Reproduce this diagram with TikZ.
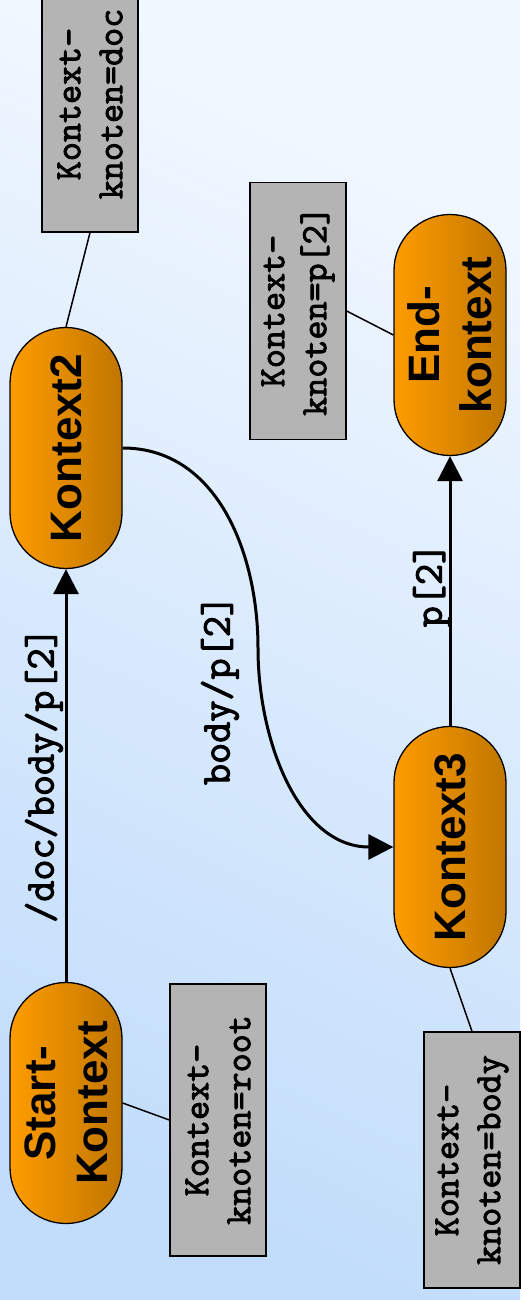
\documentclass[tikz,border=0pt]{standalone}
\usepackage{fontspec}
\setmainfont{Liberation Sans}
\setmonofont{Latin Modern Mono}[FakeBold=2.5]
\usetikzlibrary{arrows.meta,shapes.misc}

\definecolor{bghell}{HTML}{F2F8FF}
\definecolor{bgdunkel}{HTML}{C2DDFB}
\definecolor{orhell}{HTML}{FF9C00}
\definecolor{ordunkel}{HTML}{C07600}
\definecolor{kastengrau}{HTML}{B4B4B4}

\tikzset{
  kontext/.style={rounded rectangle, draw, line width=1.3pt, rotate=90,
    minimum width=241pt, minimum height=112pt, inner sep=0pt, align=center,
    left color=orhell, right color=ordunkel,
    font=\bfseries\fontsize{44}{52}\selectfont},
  knoten/.style={draw, line width=1.3pt, fill=kastengrau, rotate=90,
    minimum height=96pt, inner sep=0pt, align=center,
    font=\ttfamily\fontsize{37}{42}\selectfont},
  weg/.style={rotate=90, inner sep=0pt, font=\ttfamily\fontsize{41}{44}\selectfont},
  pfeil/.style={-{Triangle[length=25pt,width=25pt]}, line width=3pt},
  bein/.style={line width=1.5pt}
}

\begin{document}
\begin{tikzpicture}[x=1pt,y=-1pt]
  \useasboundingbox (0,0) rectangle (520,1300);
  \shade[top color=bghell, bottom color=bgdunkel, shading angle=-25] (0,0) rectangle (520,1300);

  \node[kontext] (start) at (66,1103) {Start-\\Kontext};
  \node[kontext] (k2) at (66,448) {Kontext2};
  \node[kontext] (k3) at (450,847) {Kontext3};
  \node[kontext] (ende) at (450,335) {End-\\kontext};

  \node[knoten, minimum width=272pt] (root) at (218,1120) {Kontext-\\knoten=root};
  \node[knoten, minimum width=256pt] (doc) at (90,104) {Kontext-\\knoten=doc};
  \node[knoten, minimum width=257pt] (p2) at (298,311) {Kontext-\\knoten=p[2]};
  \node[knoten, minimum width=256pt] (body) at (472,1160) {Kontext-\\knoten=body};

  \coordinate (mitte) at (258,648);

  \draw[bein] (start.south) -- (root.north);
  \draw[bein] (doc.west) -- (k2.east);
  \draw[bein] (p2.south) -- (ende.north);
  \draw[bein] (k3.west) -- (body.east);

  \draw[pfeil] (start.east) -- (k2.west);
  \draw[pfeil] (k3.east) -- (ende.west);
  \draw[pfeil] (k2.south) to[out=0,in=90] (mitte) to[out=-90,in=180] (k3.north);

  \node[weg] (l1) at (44,775) {/doc/body/p[2]};
  \node[weg] (l2) at (220,690) {body/p[2]};
  \node[weg] (l3) at (432,585) {p[2]};
\end{tikzpicture}
\end{document}
